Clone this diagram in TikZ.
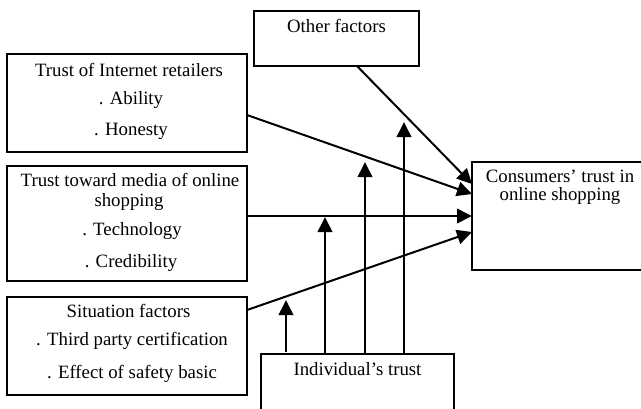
\documentclass[tikz,border=0pt]{standalone}
\usepackage{fontspec}
\setmainfont{Liberation Serif}
\usetikzlibrary{arrows.meta}
\begin{document}
\begin{tikzpicture}[x=1pt,y=-1pt,
  box/.style={draw,line width=2pt,rectangle,inner sep=0pt,outer sep=0pt,anchor=north west},
  openbox/.style={rectangle,inner sep=0pt,outer sep=0pt,anchor=north west},
  side/.style={line width=2pt,line cap=rect},
  txt/.style={anchor=base,inner sep=0pt,font=\fontsize{18.8}{21}\selectfont},
  conn/.style={line width=2pt,-{Triangle[length=15pt,width=14.5pt]}}]
\useasboundingbox (0,0) rectangle (641,408);
\clip (0,0) rectangle (641,408);
% boxes
\node[box,minimum width=165pt,minimum height=55pt] (oth) at (254,11) {};
\node[box,minimum width=240pt,minimum height=98pt] (ret) at (7,54) {};
\node[box,minimum width=240pt,minimum height=115pt] (med) at (7,166) {};
\node[box,minimum width=240pt,minimum height=98pt] (sit) at (7,297) {};
\node[openbox,minimum width=193pt,minimum height=80pt] (ind) at (261,354) {};
\node[openbox,minimum width=220pt,minimum height=108pt] (con) at (472,162) {};
% open sides (boxes running past the picture edge)
\draw[side] (ind.south west) -- (ind.north west) -- (ind.north east) -- (ind.south east);
\draw[side] (con.north east) -- (con.north west) -- (con.south west) -- (con.south east);
% texts
\node[txt] (othT) at (336.5,32) {Other factors};
\node[txt] (retT1) at (129,76) {Trust of Internet retailers};
\node[txt] (retT2) at (131,104) {. Ability};
\node[txt] (retT3) at (131,135) {. Honesty};
\node[txt] (medT1) at (130,186.5) {Trust toward media of online};
\node[txt] (medT2) at (129,206) {shopping};
\node[txt] (medT3) at (132,235) {. Technology};
\node[txt] (medT4) at (131,267) {. Credibility};
\node[txt] (sitT1) at (128.5,317) {Situation factors};
\node[txt] (sitT2) at (132,345) {. Third party certification};
\node[txt] (sitT3) at (132,378) {. Effect of safety basic};
\node[txt] (indT) at (357.5,375) {Individual’s trust};
\node[txt] (conT1) at (560,182) {Consumers’ trust in};
\node[txt] (conT2) at (560,200) {online shopping};
% connectors to consumers' trust
\draw[conn] ([xshift=20.5pt]oth.south) -- ([yshift=32pt]con.west);
\draw[conn] ([yshift=-12pt]ret.east) -- ([yshift=22pt]con.west);
\draw[conn] (med.east |- con.west) -- (con.west);
\draw[conn] ([yshift=36pt]sit.east) -- ([yshift=-16pt]con.west);
% moderating arrows from individual's trust
\coordinate (t1) at (286,300);
\coordinate (t2) at (325,217);
\coordinate (t3) at (365,162);
\coordinate (t4) at (404,122);
\draw[conn] ([yshift=2pt]ind.north -| t1) -- (t1);
\draw[conn] (ind.north -| t2) -- (t2);
\draw[conn] (ind.north -| t3) -- (t3);
\draw[conn] (ind.north -| t4) -- (t4);
\end{tikzpicture}
\end{document}
